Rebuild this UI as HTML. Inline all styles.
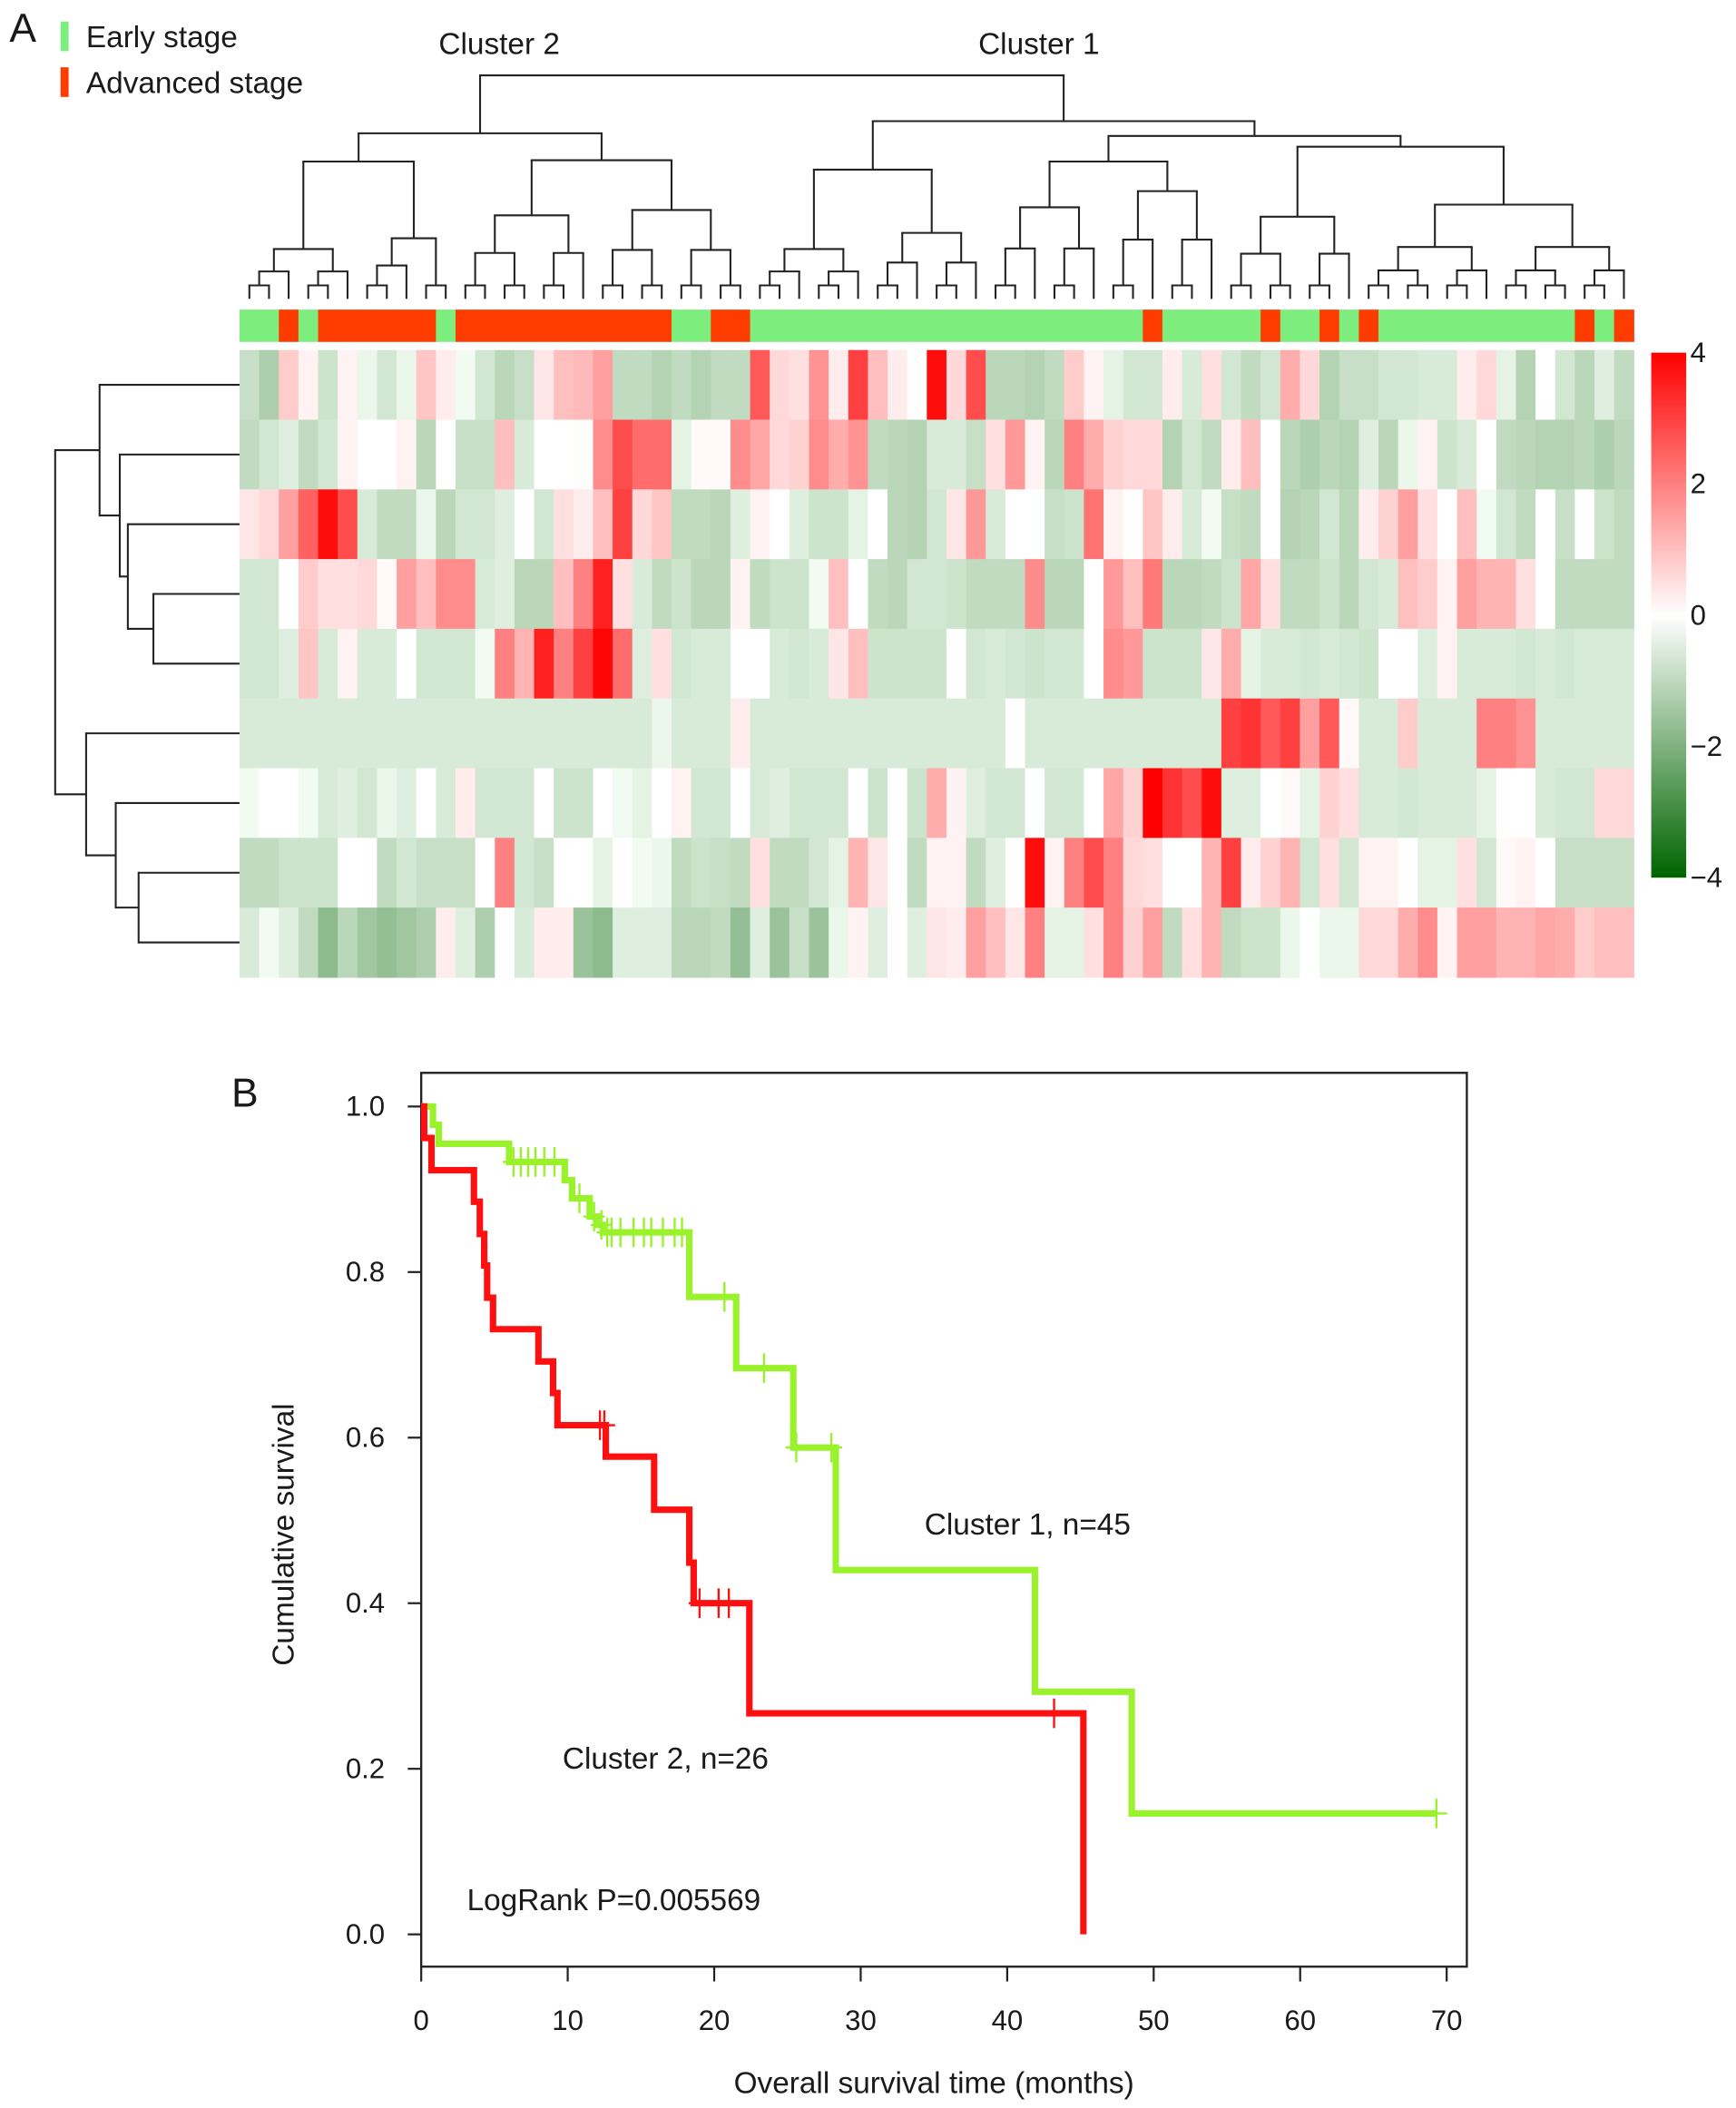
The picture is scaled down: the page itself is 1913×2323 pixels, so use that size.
<!DOCTYPE html>
<html><head><meta charset="utf-8">
<style>
html,body{margin:0;padding:0;background:#fff;}
svg{display:block;}
text{font-family:"Liberation Sans",Arial,sans-serif;fill:#1a1a1a;}
</style></head>
<body>
<svg id="fig" width="1913" height="2323" viewBox="0 0 1290 1566" preserveAspectRatio="none" xmlns="http://www.w3.org/2000/svg">
  <rect x="0" y="0" width="1290" height="1566" fill="#fff"/>
  <text x="7" y="31" font-size="30">A</text>
  <rect x="45" y="16" width="6" height="22" fill="#7ded7d"/>
  <text x="64" y="35" font-size="22.5">Early stage</text>
  <rect x="45" y="50" width="6" height="22" fill="#ff3c00"/>
  <text x="64" y="69" font-size="22.5">Advanced stage</text>
  <text x="371" y="40" font-size="22.5" text-anchor="middle">Cluster 2</text>
  <text x="772" y="40" font-size="22.5" text-anchor="middle">Cluster 1</text>
  <g id="topDendro"></g>
  <g id="leftDendro"></g>
  <g id="annot"></g>
  <g id="heat"></g>
  <defs>
    <linearGradient id="cbgrad" x1="0" y1="0" x2="0" y2="1">
      <stop offset="0" stop-color="#ff0000"/>
      <stop offset="0.5" stop-color="#ffffff"/>
      <stop offset="1" stop-color="#006400"/>
    </linearGradient>
  </defs>
  <rect x="1227" y="262" width="26" height="390" fill="url(#cbgrad)"/>
  <g id="cbticks"></g>

  <text x="172" y="822" font-size="30">B</text>
  <rect x="313" y="797" width="777" height="664" fill="none" stroke="#222" stroke-width="1.6"/>
  <g id="kmAxes"></g>
  <g id="kmCurves"></g>
  <text x="687" y="1140" font-size="22.5">Cluster 1, n=45</text>
  <text x="418" y="1314" font-size="22.5">Cluster 2, n=26</text>
  <text x="347" y="1419" font-size="22.5">LogRank P=0.005569</text>
  <text x="694" y="1555" font-size="22.5" text-anchor="middle">Overall survival time (months)</text>
  <text x="0" y="0" font-size="22.5" text-anchor="middle" transform="translate(218,1140) rotate(-90)">Cumulative survival</text>
</svg>
<script>
// ---------- Heatmap data (9 genes x 71 patients) ----------
const r1=[-0.8,-1.2,0.8,0.2,-0.7,0.2,-0.2,-0.6,-0.2,0.9,0.3,-0.1,-0.6,-1.0,-0.8,0.4,1.0,1.1,1.5,-0.9,-0.9,-1.1,-0.9,-1.1,-0.9,-0.9,2.6,0.6,0.5,1.7,0.3,3.0,1.0,0.3,0,3.8,0.6,2.8,-1.0,-1.0,-1.1,-0.9,0.8,0.2,-0.3,-0.6,-0.6,0.3,-0.5,0.5,-0.6,-0.9,-0.6,1.3,0.6,-1.1,-0.8,-0.8,-0.6,-0.6,-0.5,-0.5,0.3,0.6,-0.3,-1.1,0,-0.6,-1.0,-0.4,-0.9];
const r2=[-0.9,-0.6,-0.4,-0.9,-0.6,0.2,0,0,0.2,-1.0,0,-0.8,-0.8,1.0,-0.5,0,0,0.05,1.8,2.8,2.3,2.3,-0.3,0.1,0.1,1.8,1.4,0.6,0.7,1.8,1.3,1.7,-0.9,-1.0,-1.1,-0.5,-0.5,-0.8,0.5,1.6,0.2,-1.0,2.0,1.3,0.7,0.6,0.6,-1.1,-0.6,-0.9,0.3,1.0,0,-1.0,-1.2,-1.0,-1.1,-0.4,-1.0,-0.2,0.2,-0.7,-0.5,0,-0.9,-1.0,-1.1,-1.1,-1.0,-1.2,-1.0];
const r3=[0.4,0.6,1.5,2.5,3.8,2.8,-0.5,-0.9,-0.9,-0.2,-1.0,-0.6,-0.6,-0.4,0,-0.6,0.5,0.3,1.0,3.0,0.6,0.9,-0.9,-0.9,-1.0,-0.4,0.2,0,-0.4,-0.7,-0.7,-0.3,0,-1.0,-1.1,-0.6,0.4,1.6,-0.5,0,0,-0.8,-0.7,2.2,0.2,0,0.9,0.3,-0.5,-0.1,-0.8,-0.9,0,-1.1,-1.0,-0.6,-1.0,0.3,0.7,1.5,0.5,0,1.0,-0.1,-0.6,-0.9,0,-0.8,0,-0.7,-0.9];
const r4=[-0.6,-0.6,0,0.8,0.5,0.5,0.6,0.1,1.5,1.0,1.8,1.8,-0.5,-0.4,-1.0,-1.0,1.0,2.0,3.5,0.5,-0.5,-0.9,-0.7,-1.0,-1.0,0.2,-0.9,-0.7,-0.7,-0.1,1.0,0,-0.9,-1.0,-0.6,-0.6,-0.7,-0.9,-0.9,-0.9,1.8,-1.0,-1.0,0,1.6,1.0,2.1,-1.0,-1.0,-0.9,-0.7,1.4,0.5,-0.9,-0.9,-0.7,-1.0,-0.6,-0.5,1.0,0.8,0.2,1.5,1.2,1.2,0.5,0,-0.9,-0.9,-0.9,-0.9];
const r5=[-0.6,-0.6,-0.4,0.9,-0.5,0.2,-0.5,-0.5,0,-0.6,-0.6,-0.6,-0.1,2.0,1.2,3.5,2.0,3.0,3.9,2.3,-0.4,0.5,-0.6,-0.5,-0.5,0,0,-0.5,-0.6,-0.5,0.4,1.0,-0.7,-0.7,-0.7,-0.7,0,-0.6,-0.5,-0.6,-0.7,-0.6,-0.6,0,1.8,1.6,-0.7,-0.7,-0.7,0.4,1.3,-0.3,-0.5,-0.5,-0.6,-0.5,-0.6,-0.7,0,0,-0.4,0.2,-0.5,-0.5,-0.5,-0.6,-0.5,-0.6,-0.5,-0.5,-0.5];
const r6=[-0.5,-0.5,-0.5,-0.5,-0.5,-0.5,-0.5,-0.5,-0.5,-0.5,-0.5,-0.5,-0.5,-0.5,-0.5,-0.5,-0.5,-0.5,-0.5,-0.5,-0.5,-0.2,-0.5,-0.5,-0.5,0.3,-0.5,-0.5,-0.5,-0.5,-0.5,-0.5,-0.5,-0.5,-0.5,-0.5,-0.5,-0.5,-0.5,0,-0.5,-0.5,-0.5,-0.5,-0.5,-0.5,-0.5,-0.5,-0.5,-0.5,3.0,3.2,2.6,3.0,1.5,2.6,0.1,-0.5,-0.5,0.8,-0.5,-0.5,-0.5,2.0,2.0,1.7,-0.5,-0.5,-0.5,-0.5,-0.5];
const r7=[-0.1,0,0,-0.1,-0.5,-0.4,-0.6,-0.2,-0.4,0,-0.5,0.3,-0.6,-0.6,-0.6,0,-0.7,-0.7,0,-0.1,-0.3,0,0.2,-0.6,-0.6,0,-0.5,-0.4,-0.6,-0.6,-0.6,0,-0.7,0,-0.7,1.3,0.2,-0.4,-0.6,-0.6,0,-0.6,-0.6,0,1.4,0.7,4.0,3.2,2.8,3.8,-0.4,-0.4,0,0.1,-0.3,0.7,0.5,-0.5,-0.5,-0.6,-0.5,-0.5,-0.5,-0.3,0,0,-0.5,-0.6,-0.6,0.6,0.6];
const r8=[-0.9,-0.9,-0.7,-0.7,-0.7,0,0,-0.9,-0.6,-0.8,-0.8,-0.8,0,2.0,-0.6,-0.8,0,0,-0.3,0,-0.1,-0.2,-0.9,-0.7,-0.8,-0.9,0.5,-0.9,-0.9,-0.6,-0.3,1.2,0.4,0,-0.9,0.2,0.2,-0.9,-0.4,0,3.8,0.2,2.0,2.8,2.0,0.6,0.5,0,0,1.2,3.0,0.3,0.7,1.2,-0.6,0.5,-0.6,0.2,0.2,0,-0.3,-0.3,0.5,-0.6,0.1,0.2,0,-0.8,-0.8,-0.8,-0.8];
const r9=[-0.5,-0.1,-0.4,-0.9,-1.7,-1.0,-1.4,-1.6,-1.4,-1.2,0.3,-0.4,-1.2,0,-0.5,0.3,0.3,-1.5,-1.7,-0.4,-0.4,-0.4,-1.0,-1.0,-0.9,-1.6,-0.4,-1.5,-0.8,-1.5,-0.2,0.2,-0.4,0,-0.4,0.4,0.3,1.5,1.0,0.4,2.0,-0.3,-0.3,0.5,2.0,0.7,1.5,-0.9,0.5,1.2,-0.9,-0.7,-0.7,-0.2,0,-0.2,-0.2,0.6,0.6,1.3,1.8,0.2,1.5,1.5,1.2,1.2,1.4,1.3,0.8,1.0,1.0];
const heatRows=[r1,r2,r3,r4,r5,r6,r7,r8,r9];
// stage per patient: E = early, A = advanced
const stages=["E","E","A","E","A","A","A","A","A","A","E","A","A","A","A","A","A","A","A","A","A","A","E","E","A","A",
"E","E","E","E","E","E","E","E","E","E","E","E","E","E","E","E","E","E","E","E","A","E","E","E","E","E","A","E","E","A","E","A","E","E","E","E","E","E","E","E","E","E","A","E","A"];
const colorTicks=[4,2,0,-2,-4];

// ---------- KM data ----------
const c1Times=[0.8,1.2,6.0,9.8,10.3,11.5,12.0,12.4,18.3,21.5,25.4,28.3,41.9,48.5];
const c1Surv=[0.978,0.955,0.933,0.911,0.889,0.867,0.857,0.848,0.77,0.684,0.588,0.44,0.293,0.146];
const c1Censor=[6.3,6.8,7.3,7.8,8.4,9.1,10.8,11.8,12.3,12.7,13.0,13.6,14.5,15.2,15.7,16.5,17.3,17.8,20.7,23.4,25.6,28.0,69.3];
const c1End=69.3;
const c2Times=[0.2,0.7,3.6,4.0,4.3,4.5,4.9,8.0,9.0,9.3,12.6,15.9,18.3,18.6,22.4,45.2];
const c2Surv=[0.962,0.923,0.885,0.846,0.808,0.769,0.731,0.692,0.654,0.615,0.577,0.513,0.449,0.40,0.267,0];
const c2Censor=[12.2,12.5,19.0,20.3,21.0,43.2];
const c2End=45.2;
const xTicks=[0,10,20,30,40,50,60,70];
const yTicks=[0.0,0.2,0.4,0.6,0.8,1.0];

const NS="http://www.w3.org/2000/svg";
function mk(tag,attrs,parent){const e=document.createElementNS(NS,tag);for(const k in attrs)e.setAttribute(k,attrs[k]);parent.appendChild(e);return e;}

// ---------- heatmap ----------
const HX0=178,HX1=1214,HY0=260,HY1=726;
const nCol=r1.length,nRow=heatRows.length;
const cw=(HX1-HX0)/nCol,rh=(HY1-HY0)/nRow;
function colX(i){return HX0+i*cw;}
function rowY(j){return HY0+j*rh;}
function valColor(v){
  v=Math.max(-4,Math.min(4,v));
  let r,g,b;
  if(v>=0){const t=v/4;r=255;g=Math.round(255*(1-t));b=g;}
  else{const t=-v/4;r=Math.round(255*(1-t)*0.97);g=Math.round(255-155*t-6*t);b=r;}
  return "rgb("+r+","+g+","+b+")";
}
const heat=document.getElementById("heat");
heatRows.forEach(function(row,j){
  row.forEach(function(v,i){
    const c=mk("rect",{x:colX(i).toFixed(2),y:rowY(j).toFixed(2),width:(cw+0.4).toFixed(2),height:(rh+0.4).toFixed(2),fill:valColor(v)},heat);
    
    
  });
});
const annot=document.getElementById("annot");
stages.forEach(function(s,i){
  const c=mk("rect",{x:colX(i).toFixed(2),y:230,width:(cw+0.4).toFixed(2),height:24,fill:s==="A"?"#ff3c00":"#7ded7d"},annot);
  
  
});
// colorbar labels
const cbt=document.getElementById("cbticks");
colorTicks.forEach(function(v){
  const y=262+(4-v)/8*390;
  const t=mk("text",{x:1256,y:(y+7).toFixed(1),"font-size":21},cbt);
  t.textContent=v<0?"\u2212"+(-v):String(v);
  
  
});

// ---------- column dendrogram ----------
const LEAFY=222;
function auto(lo,hi,y){
  if(lo===hi)return {lo:lo,hi:hi,y:LEAFY};
  const mid=Math.floor((lo+hi)/2);
  const ny=hi-lo<=1?Math.max(y,LEAFY-10):y;
  const cy=ny+(LEAFY-ny)*0.45;
  return {lo:lo,hi:hi,y:ny,kids:[auto(lo,mid,cy),auto(mid+1,hi,cy)]};
}
function N(y,a,b){return {y:y,kids:[a,b]};}
const topTree=N(56,
  N(99, N(120,auto(0,5,185),auto(6,10,177)), N(119,auto(11,17,160),auto(18,25,156))),
  N(90, N(126,auto(26,31,185),auto(32,37,173)),
        N(101, N(120,auto(38,43,154),auto(44,49,142)), N(109,auto(50,56,161),auto(57,70,152)))));
const td=document.getElementById("topDendro");
function drawTop(n){
  if(!n.kids){const x=colX(n.lo)+cw/2;return x;}
  const xs=n.kids.map(function(k){
    const x=drawTop(k);
    const ky=k.kids?k.y:LEAFY;
    const l=mk("line",{x1:x,y1:n.y,x2:x,y2:ky,stroke:"#222","stroke-width":1.4},td);
    
    
    return x;});
  const h=mk("line",{x1:xs[0]-0.7,y1:n.y,x2:xs[1]+0.7,y2:n.y,stroke:"#222","stroke-width":1.4},td);
  
  
  return (xs[0]+xs[1])/2;
}
drawTop(topTree);

// ---------- row dendrogram ----------
function R(x,a,b){return {x:x,kids:[a,b]};}
function L(i){return {leaf:i};}
const rowTree=R(41, R(74,L(0),R(89,L(1),R(95,L(2),R(114,L(3),L(4))))), R(64,L(5),R(86,L(6),R(103,L(7),L(8)))));
const ld=document.getElementById("leftDendro");
function drawLeft(n){
  if(n.leaf!==undefined)return rowY(n.leaf)+rh/2;
  const ys=n.kids.map(function(k){
    const y=drawLeft(k);
    const kx=k.leaf!==undefined?HX0:k.x;
    const l=mk("line",{x1:n.x,y1:y,x2:kx,y2:y,stroke:"#222","stroke-width":1.4},ld);
    
    
    return y;});
  const v=mk("line",{x1:n.x,y1:ys[0]-0.7,x2:n.x,y2:ys[1]+0.7,stroke:"#222","stroke-width":1.4},ld);
  
  
  return (ys[0]+ys[1])/2;
}
drawLeft(rowTree);

// ---------- KM plot ----------
const KX0=313,KXU=(1075-313)/70,KY1=822,KY0=1437;
function kx(t){return KX0+t*KXU;}
function ky(s){return KY0-(KY0-KY1)*s;}
const axes=document.getElementById("kmAxes");
yTicks.forEach(function(v){
  const y=ky(v);
  const l=mk("line",{x1:303,y1:y,x2:313,y2:y,stroke:"#222","stroke-width":1.5},axes);
  
  
  const t=mk("text",{x:286,y:y+7,"font-size":21,"text-anchor":"end"},axes);
  t.textContent=v.toFixed(1);
  
  
});
xTicks.forEach(function(v){
  const x=kx(v);
  const l=mk("line",{x1:x,y1:1461,x2:x,y2:1472,stroke:"#222","stroke-width":1.5},axes);
  
  
  const t=mk("text",{x:x,y:1508,"font-size":21,"text-anchor":"middle"},axes);
  t.textContent=String(v);
  
  
});
const curves=document.getElementById("kmCurves");
function survAt(times,surv,t){let s=1;for(let i=0;i<times.length;i++){if(times[i]<=t)s=surv[i];}return s;}
function drawKM(times,surv,censor,end,color,name){
  let d="M"+kx(0)+","+ky(1);let s=1;
  for(let i=0;i<times.length;i++){d+=" H"+kx(times[i]).toFixed(2)+" V"+ky(surv[i]).toFixed(2);s=surv[i];}
  if(s>0)d+=" H"+kx(end).toFixed(2);
  const p=mk("path",{d:d,fill:"none",stroke:color,"stroke-width":4.8,"stroke-linejoin":"miter"},curves);
  
  
  censor.forEach(function(t){
    const x=kx(t),y=ky(survAt(times,surv,t));
    const c=mk("path",{d:"M"+x+","+(y-11)+" V"+(y+11)+" M"+(x-8)+","+y+" H"+(x+8),stroke:color,"stroke-width":1.6,fill:"none"},curves);
    
    
  });
}
drawKM(c1Times,c1Surv,c1Censor,c1End,"#99f22a","cluster-1-curve");
drawKM(c2Times,c2Surv,c2Censor,c2End,"#ff1010","cluster-2-curve");
</script>
</body></html>
